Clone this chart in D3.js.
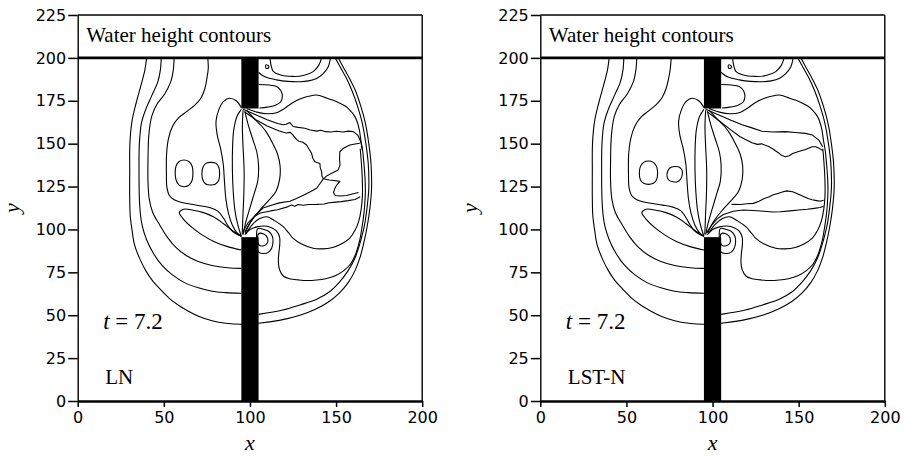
<!DOCTYPE html>
<html>
<head>
<meta charset="utf-8">
<script src="https://cdn.jsdelivr.net/npm/d3@7"></script>
<style>
  body { margin: 0; background: #fff; }
  svg { display: block; }
</style>
</head>
<body>
<svg id="chart" width="904" height="459"></svg>
<script>
// ---- axes ----
const xTicks = [0, 50, 100, 150, 200];
const yTicks = [0, 25, 50, 75, 100, 125, 150, 175, 200, 225];

// ---- breached wall: lower and upper blocks (x0, x1, y0, y1) ----
const wallLower = [95, 105, 0, 95.5];
const wallUpper = [95, 105, 170.5, 200];

// ---- contour lines, [x, y] in model units ----
// outermost front, runs round the whole flooded region
const lineA = [[40,200],[39,193],[37,185],[34,174],[31.5,163],[30.3,150],[30.2,134],[30.2,118],[30.5,108],[31.5,100],[33,91],[36,83],[39.5,76],[43.5,70],[48,65],[53,60],[58.5,55.8],[64,52.5],[70.5,49.3],[78,46.8],[86,45.3],[95,44.7],[105,45.3],[117,47],[129,50],[138,53.5],[146,58],[152,63],[157,69],[161,76],[164,84],[166.3,93],[168.1,102],[169.6,112],[170.6,124],[170.3,138],[169,150],[167,162],[164.3,172],[161.2,181],[157.5,188.5],[154.5,194],[151.3,200]];
const lineB = [[48.5,200],[48,193],[46.5,186],[43,178],[39.5,170],[37,162],[35.8,150],[35.6,134],[35.8,118],[36.5,108],[37.5,102],[40,94],[44,86],[49,79],[55,73.5],[62,69],[70,66],[78,64],[86,63.2],[95,62.8]];
const lineS2 = [[105,50.5],[119,53],[129,56],[138.7,59.3],[146,63.5],[152.2,69.6],[157,76],[160.9,83.2],[163.6,91],[165.2,97],[166.6,103],[167.9,112],[169,124],[168.7,138],[167.3,150],[165.2,162],[162.4,172],[159.2,181],[155.8,188.5],[152.8,194],[149.5,200]];
const lineC = [[56,200],[55.5,193],[54,186],[50.5,179],[46,173],[43,166],[41.3,155],[40.8,140],[40.8,128],[41.5,118],[43.5,110],[47.6,102.6],[52,95.5],[57,89.5],[63,84.8],[70,81.3],[78,79],[87,77.7],[95,77.3]];
const lineE = [[95,88],[87,90],[79,93],[72,97],[66,101.5],[61,106.5],[59,110],[61.5,111.8],[67,111.2],[73,109.8],[79,107.3],[84.5,103.5],[89.5,99.5],[95,96]];
const lineH = [[95,171],[92,175],[88,176.5],[84.5,174.5],[82,170],[80.3,163],[81,155],[83,147],[84.5,138],[85.2,128],[86,118],[87.5,109.5],[89.8,102.5],[92.5,98],[95,96]];
const lineG1 = [[95,170],[92.5,166],[90.6,158],[89.9,148],[89.8,135],[90.3,122],[91.3,111],[93,102.5],[95,96]];
const lineG2 = [[96,169.5],[95.6,160],[96,148],[96.6,135],[96.5,122],[96,110],[95.5,97]];
const lineP1 = [[97,169],[99,161],[101.5,153],[104,145],[105,137],[104.5,128],[102.5,121],[99.8,112],[97.5,104],[96,97]];
const lineP2 = [[98,169.5],[103,164],[107,160],[110,156],[113,150.5],[116,144],[117.5,137],[117.2,129],[115,122],[110.5,116.5],[105.5,111],[100.5,104.5],[97.2,98]];
const lineV = [[98,170.5],[104,168.4],[110,167.4],[116,168.2],[120,170.5],[124.5,173.7],[129,176],[134,177.6],[138.7,178.4],[144.5,176.6],[148,175.4],[152.2,173.5],[155.5,171.8],[158,169.6],[160.5,166.5],[162,163.5],[163.5,158],[164.4,152],[165.4,146],[166.2,138],[166.8,130],[167,122],[166.6,114],[165.9,107],[165,101],[163.8,94],[161.5,86],[158.5,80],[154.5,76],[149.5,73],[144,71.3],[138.7,70.5],[133,70.2],[128,70.6],[123,71.3],[119.5,72.7],[117.2,76.5],[116.5,81],[116.8,86.5],[117.3,91],[117.2,95.5],[115.5,99],[112.5,101],[108.5,102],[104,101.5],[100,100],[97,97]];
const lineS4 = [[97.5,97.5],[101.5,103],[105.5,106.2],[109.7,107.4],[114.5,105],[119.3,101.6],[122.5,98],[125.1,94.8],[130,91.5],[136.7,89],[142,88.7],[148,89.5],[153,91.5],[157.8,94.8],[161,99.5],[163.2,105],[164.6,112],[165.3,120],[165.2,130],[164.6,140],[164,147]];
const lineT0 = [[111.6,200],[112.3,195.5],[113.5,192.2],[117.4,190.2],[125,189.2],[131,189.7],[136.7,192],[140,195.8],[141.6,200]];
const lineT1 = [[105,191.5],[109,188.8],[115.5,187.2],[122,186.3],[129,186.1],[134,186.6],[138.7,188],[142.5,190.8],[145.3,194.5],[146.8,200]];
const lineU = [[105,184.5],[111,184.2],[115.5,183.3],[118,180.8],[118.8,177.3],[117.8,174.3],[114.5,172.3],[110,171.3],[105.5,170.8]];

// closed loops (eddies and the two upstream pools)
const loopSwirl = [[104.5,100.5],[108,100],[111,98.8],[113,96],[113.4,93],[112.6,89],[110.5,86.5],[107.5,86],[105,86.8],[104,93]];
const loopSwirlInner = [[105,97.5],[108,97.3],[110.2,95],[110,92],[108,90.5],[105.2,91]];
const loopTiny = [[109.2,195.8],[110.6,195.6],[110.8,194.2],[109.4,193.9]];

// ---- scheme LN ----
const lnD = [[75.5,200],[75.8,194],[75,188],[73.8,182],[71.5,176.5],[68,172.5],[63,168.5],[58.5,165],[55,160],[52.7,153],[51.6,144],[51.5,132],[51.8,124.5],[53.2,119.8],[56,117.3],[60,115.9],[66,114.7],[71,113.8],[77,112.6],[81.5,110.5],[84.5,106.8],[87.2,102.2],[90,98.8],[95,96]];
const lnPool1 = [[61.7,140.5],[64.5,139.6],[66.4,137],[66.9,133],[66.4,128.5],[64.5,125.8],[61.7,124.9],[58.9,125.8],[57.2,128.5],[56.6,133],[57.1,137],[58.9,139.6]];
const lnPool2 = [[77.2,139.1],[80.3,138.5],[82,136],[82.4,132.5],[81.8,128.5],[79.8,126.3],[77,125.9],[74.4,126.5],[72.6,129],[72.1,132.5],[72.6,136],[74.4,138.5]];
const lnW = [[96,170],[103,167],[110,164],[116,161.8],[119.3,161],[121,161.3],[123.2,162.3],[125.1,160],[128,159.5],[131.9,159],[135,158],[138.7,157.3],[141,157.8],[144,157],[147,156.8],[150.3,157.2],[154,156.8],[157,157.3],[160,157],[162.6,155],[164.4,151],[165.3,146]];
const lnM = [[97,168.5],[104,163.6],[110,160.3],[117,157.4],[121,156.2],[123.5,156.6],[125,155],[127,152.5],[128.5,151.3],[130.5,151],[132.9,149.2],[134.5,146.5],[135.8,144.4],[136.5,141.5],[137.7,139.5],[140.6,138.5],[140.8,136],[141.6,133.7],[141.8,131],[142.6,129.5]];
const lnMLowerLeft = [[142.6,129.5],[140.5,126.5],[138.7,124],[135,122],[131,120],[127,118],[123.2,116.4],[117,115.5],[112,114],[107.5,112.5],[103,108],[99.5,103],[97,98.5]];
const lnMUpperRight = [[142.6,129.5],[145,131.5],[148,133],[151.2,134.7],[152.3,137.5],[152,141],[152.2,145.3],[154.5,147.5],[158,149.2],[161,149.8],[163.8,150.2]];
const lnMLowerRight = [[142.6,129.5],[146,128.8],[149,128.5],[152.2,128],[150.5,126],[149.3,124],[148.5,121.5],[149.5,119.8],[152.2,119.5],[156,119.8],[160,120.8],[163,121.5]];
const lnL = [[96,99],[99,104],[102.5,107.5],[106,109.6],[112,110.8],[116,111.5],[121.3,113],[124,114.2],[126,113.5],[128,114.5],[131,114.1],[134,114.5],[138.7,114.6],[143,114.8],[146,115.6],[148.3,115.8],[153,116.2],[157,116.8],[161,117.5],[164,119]];

// ---- scheme LST-N ----
const lstD = [[76,200],[75.5,194],[74.5,188],[73,182],[70.5,176.5],[67,172.5],[62.5,168.8],[58.5,165.5],[55,160.5],[52.5,153],[51.3,144],[51.2,132],[51.5,124.5],[53,119.8],[56,117.3],[60,116],[66,115],[71,114.2],[77,113],[81.5,111],[84.5,107],[87.2,102.3],[90,98.8],[95,96]];
const lstPool1 = [[62.8,139.9],[65.6,139.1],[67.5,136.6],[68.1,133],[67.5,129],[65.6,126.9],[62.8,126.3],[60,126.9],[58.1,129],[57.5,133],[58.1,136.6],[60,139.1]];
const lstPool2 = [[78,136.7],[80.8,136.3],[82.3,134.5],[82.4,132],[81.5,129.3],[79.5,127.8],[77,127.8],[74.8,128.6],[73.6,130.8],[73.8,133.5],[75.2,135.8]];
const lstW = [[96,170],[103,167],[110,164],[117.1,161],[122,159.5],[128.7,157.2],[135,156.8],[142.3,157],[148,156.5],[153.9,156],[158,155],[161.7,152.1],[164,148]];
const lstM = [[97,168.5],[104,163.2],[110,158.5],[116,154],[122.9,150.5],[126,149.6],[128.5,149.9],[132.6,148.4],[135.5,146.6],[138.4,144.6],[140,143.2],[142.3,142.4],[144.5,143],[146.5,144.3],[150,145.4],[154,146.6],[157.8,148.2],[160,148.2],[161.7,147.4],[164,146]];
const lstL2 = [[111,114.6],[116,114.5],[120,115],[123.7,115.2],[127,116.5],[130,118],[133,119],[135.3,120.2],[138,121],[140.5,121.8],[143.1,122.5],[146.5,122],[150,120.5],[152.8,119.2],[155.5,118],[157.8,117.3],[160.5,116.8],[162.4,116.4],[164.5,117]];
const lstL1 = [[96.5,98],[99.5,102.5],[102.5,106],[106,108.6],[112,110.6],[118,111.3],[123.7,111],[130,110.6],[135,110.2],[139.2,110.3],[145,110.8],[150,111.3],[155,111.8],[159,112.3],[162.4,112.8],[164.5,113.5]];

const sharedSmooth = [lineA, lineB, lineS2, lineC, lineE, lineH, lineG1, lineG2, lineP1, lineP2, lineV, lineS4, lineT0, lineT1, lineU];
const sharedLoops = [loopSwirl, loopSwirlInner, loopTiny];

const panels = [
  { left: 77.7, yTitleX: 19, name: "LN",
    smooth: [lnD], rough: [lnW, lnM, lnMLowerLeft, lnMUpperRight, lnMLowerRight, lnL],
    loops: [lnPool1, lnPool2] },
  { left: 540.3, yTitleX: 477, name: "LST-N",
    smooth: [lstD], rough: [lstW, lstM, lstL2, lstL1],
    loops: [lstPool1, lstPool2] }
];

// ---- drawing ----
const svg = d3.select("#chart");
const W = 344.5, H = 386, TOP = 15;
const x = d3.scaleLinear().domain([0, 200]).range([0, W]);
const y = d3.scaleLinear().domain([0, 225]).range([H, 0]);

const smoothLine = d3.line().x(d => x(d[0])).y(d => y(d[1])).curve(d3.curveCatmullRom.alpha(0.5));
const roughLine = d3.line().x(d => x(d[0])).y(d => y(d[1])).curve(d3.curveLinear);
const loopLine = d3.line().x(d => x(d[0])).y(d => y(d[1])).curve(d3.curveCatmullRomClosed.alpha(0.5));

const serif = "'Liberation Serif', 'Times New Roman', serif";
const sans = "'DejaVu Sans', sans-serif";

panels.forEach((p, i) => {
  const g = svg.append("g").attr("transform", `translate(${p.left},${TOP})`);

  const clipId = "clip" + i;
  g.append("clipPath").attr("id", clipId)
    .append("rect").attr("x", x(0)).attr("y", y(200)).attr("width", x(200) - x(0)).attr("height", y(0) - y(200));

  const field = g.append("g").attr("clip-path", `url(#${clipId})`)
    .attr("fill", "none").attr("stroke", "#000").attr("stroke-width", 1.1).attr("stroke-linejoin", "round");

  field.selectAll("path.smooth").data(sharedSmooth.concat(p.smooth)).join("path")
    .attr("class", "smooth").attr("d", smoothLine);
  field.selectAll("path.rough").data(p.rough).join("path")
    .attr("class", "rough").attr("d", roughLine);
  field.selectAll("path.loop").data(sharedLoops.concat(p.loops)).join("path")
    .attr("class", "loop").attr("d", loopLine);

  // wall blocks
  g.selectAll("rect.wall").data([wallLower, wallUpper]).join("rect")
    .attr("class", "wall")
    .attr("x", d => x(d[0])).attr("width", d => x(d[1]) - x(d[0]))
    .attr("y", d => y(d[3])).attr("height", d => y(d[2]) - y(d[3]))
    .attr("fill", "#000");

  // axes
  const ax = g.append("g").attr("transform", `translate(0,${H})`)
    .call(d3.axisBottom(x).tickValues(xTicks).tickSize(6).tickPadding(5).tickSizeOuter(0));
  const ay = g.append("g")
    .call(d3.axisLeft(y).tickValues(yTicks).tickSize(9.5).tickPadding(2).tickSizeOuter(0));
  [ax, ay].forEach(a => {
    a.selectAll("text").attr("font-family", sans).attr("font-size", 16).attr("fill", "#000");
    a.selectAll("line").attr("stroke", "#000").attr("stroke-width", 1.5);
    a.select(".domain").attr("stroke", "#000");
  });
  ax.select(".domain").attr("stroke-width", 2.6);
  ay.select(".domain").attr("stroke-width", 1.4);

  // frame: top, right, and the band line at y = 200
  g.append("line").attr("x1", 0).attr("x2", W).attr("y1", y(225)).attr("y2", y(225))
    .attr("stroke", "#000").attr("stroke-width", 1.4);
  g.append("line").attr("x1", W).attr("x2", W).attr("y1", y(225)).attr("y2", y(0))
    .attr("stroke", "#000").attr("stroke-width", 1.4);
  g.append("line").attr("x1", 0).attr("x2", W).attr("y1", y(200)).attr("y2", y(200))
    .attr("stroke", "#000").attr("stroke-width", 2.6);

  // texts
  g.append("text").attr("x", 8.5).attr("y", 41.7 - TOP)
    .attr("font-family", serif).attr("font-size", 21).text("Water height contours");

  const tt = g.append("text").attr("x", 25.5).attr("y", 329 - TOP)
    .attr("font-family", serif).attr("font-size", 23);
  tt.append("tspan").attr("font-style", "italic").text("t");
  tt.append("tspan").text(" = 7.2");

  g.append("text").attr("x", 27.5).attr("y", 384 - TOP)
    .attr("font-family", serif).attr("font-size", 21).text(p.name);

  g.append("text").attr("x", x(100)).attr("y", 450 - TOP).attr("text-anchor", "middle")
    .attr("font-family", serif).attr("font-style", "italic").attr("font-size", 22).text("x");

  g.append("text").attr("transform", `translate(${p.yTitleX - p.left},${208 - TOP}) rotate(-90)`)
    .attr("text-anchor", "middle")
    .attr("font-family", serif).attr("font-style", "italic").attr("font-size", 22).text("y");
});
</script>
</body>
</html>
